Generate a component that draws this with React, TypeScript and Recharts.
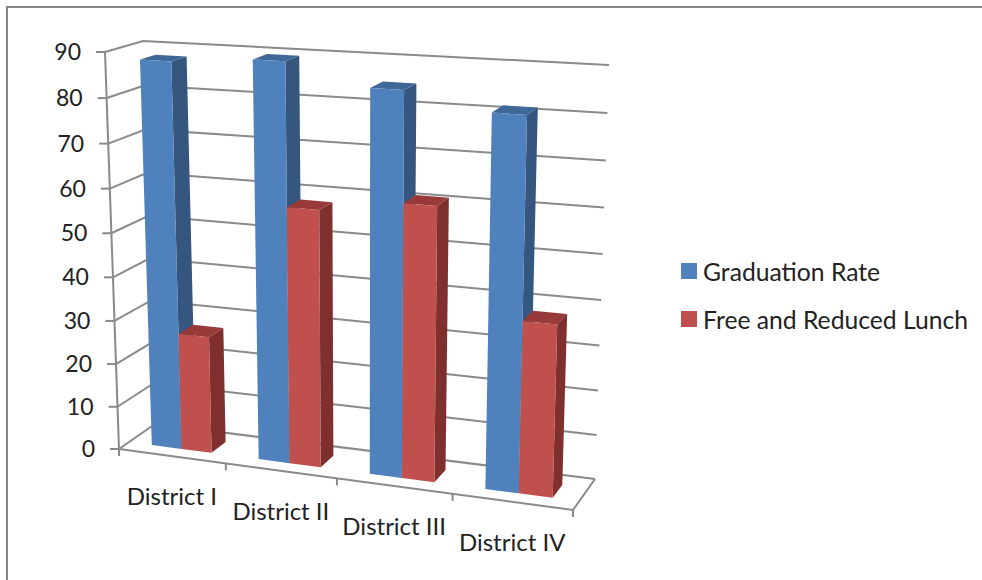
import React from 'react';
import { BarChart, Bar, XAxis, YAxis, CartesianGrid, Legend } from 'recharts';

const categories = ['District I', 'District II', 'District III', 'District IV'];
const graduationRate = [88, 89.5, 85, 81.5];
const freeReducedLunch = [27, 58, 61, 38];
const yTicks = [0, 10, 20, 30, 40, 50, 60, 70, 80, 90];

const data = categories.map((name, i) => ({
  name,
  graduation: graduationRate[i],
  lunch: freeReducedLunch[i],
}));

const FONT = 'Lato, sans-serif';
const GRID = '#8a8a8a';

// logical plot box, every mark gets projected out of it
const PLOT = { left: 119, top: 52, width: 454, height: 397 };

// corners of the 3d box on screen: [bottom, top] for each of back/front and left/right
const BACK_LEFT = [[155, 424], [143, 41]];
const BACK_RIGHT = [[595, 479], [609, 65]];
const FRONT_LEFT = [[119, 449], [105, 52]];
const FRONT_RIGHT = [[573, 510], [585, 82]];

const BAR_FRONT = 0.72;
const BAR_BACK = 0.3;

const mix = (a: number, b: number, k: number) => a + (b - a) * k;
// foreshortening of an axis
const warp = (t: number, k: number) => t / (k - (k - 1) * t);

// t across the categories, h up the value axis, d from back wall (0) to front (1)
function project(t: number, h: number, d: number): [number, number] {
  const u = warp(t, 1.083);
  const v = warp(h, 1.05);
  const out: number[] = [0, 1].map((c) => {
    const bottom = mix(
      mix(BACK_LEFT[0][c], BACK_RIGHT[0][c], u),
      mix(FRONT_LEFT[0][c], FRONT_RIGHT[0][c], u),
      d
    );
    const top = mix(
      mix(BACK_LEFT[1][c], BACK_RIGHT[1][c], u),
      mix(FRONT_LEFT[1][c], FRONT_RIGHT[1][c], u),
      d
    );
    return mix(bottom, top, v);
  });
  return [out[0], out[1]];
}

const toT = (x: number) => (x - PLOT.left) / PLOT.width;
const toH = (y: number) => (PLOT.top + PLOT.height - y) / PLOT.height;
const pts = (list: [number, number][]) => list.map((p) => p.join(',')).join(' ');

const lineProps = { stroke: GRID, strokeWidth: 2, fill: 'none' };

function bar3d(sideColor: string, topColor: string) {
  return (props: any) => {
    const { x, y, width, height, fill } = props;
    const t0 = toT(x);
    const t1 = toT(x + width);
    const h = toH(y);
    const h0 = toH(y + height);
    const front: [number, number][] = [
      project(t0, h0, BAR_FRONT),
      project(t1, h0, BAR_FRONT),
      project(t1, h, BAR_FRONT),
      project(t0, h, BAR_FRONT),
    ];
    const side: [number, number][] = [
      project(t1, h0, BAR_FRONT),
      project(t1, h0, BAR_BACK),
      project(t1, h, BAR_BACK),
      project(t1, h, BAR_FRONT),
    ];
    const top: [number, number][] = [
      project(t0, h, BAR_FRONT),
      project(t1, h, BAR_FRONT),
      project(t1, h, BAR_BACK),
      project(t0, h, BAR_BACK),
    ];
    return (
      <g>
        <polygon points={pts(side)} fill={sideColor} />
        <polygon points={pts(top)} fill={topColor} />
        <polygon points={pts(front)} fill={fill} />
      </g>
    );
  };
}

// one level of the walls, the floor outline comes with level 0
function wallLine(props: any) {
  const h = toH(props.y1);
  const level: [number, number][] = [project(0, h, 1), project(0, h, 0), project(1, h, 0)];
  const isFloor = Math.abs(h) < 0.001;
  return (
    <g key={`wall-${props.index}`}>
      <polyline points={pts(level)} {...lineProps} />
      {isFloor && (
        <polyline points={pts([project(0, 0, 1), project(1, 0, 1), project(1, 0, 0)])} {...lineProps} />
      )}
      {isFloor && <polyline points={pts([project(0, 0, 1), project(0, 1, 1)])} {...lineProps} />}
    </g>
  );
}

function YTick(props: any) {
  const { y, payload } = props;
  const [ax, ay] = project(0, toH(y), 1);
  return (
    <g>
      <line x1={ax - 9} y1={ay} x2={ax} y2={ay} {...lineProps} />
      <text x={ax - 24} y={ay + 8} textAnchor="end" fontFamily={FONT} fontSize={23} fill="#222">
        {payload.value}
      </text>
    </g>
  );
}

function XTick(props: any) {
  const { x, payload, index } = props;
  const t = toT(x);
  const half = 1 / categories.length / 2;
  const [lx, ly] = project(t, 0, 1);
  const [ex, ey] = project(t + half, 0, 1);
  const [sx, sy] = project(t - half, 0, 1);
  return (
    <g>
      <line x1={ex} y1={ey} x2={ex} y2={ey + 7} {...lineProps} />
      {index === 0 && <line x1={sx} y1={sy} x2={sx} y2={sy + 7} {...lineProps} />}
      <text x={lx} y={ly + 49} textAnchor="middle" fontFamily={FONT} fontSize={24} fill="#222">
        {payload.value}
      </text>
    </g>
  );
}

function LegendBox(props: any) {
  return (
    <div>
      {props.payload.map((item: any) => (
        <div key={item.value} style={{ display: 'flex', alignItems: 'center', height: 48 }}>
          <span style={{ width: 16, height: 16, background: item.color, marginRight: 6 }} />
          <span style={{ fontFamily: FONT, fontSize: 24.7, color: '#222', whiteSpace: 'nowrap' }}>{item.value}</span>
        </div>
      ))}
    </div>
  );
}

export default function App() {
  return (
    <div
      style={{
        position: 'absolute',
        left: 0,
        top: 0,
        width: 982,
        height: 580,
        overflow: 'hidden',
        background: '#fff',
      }}
    >
      <div
        style={{
          position: 'absolute',
          left: 6,
          top: 6,
          width: 990,
          height: 590,
          borderLeft: '2px solid #868686',
          borderTop: '2px solid #868686',
        }}
      />
      <div style={{ position: 'absolute', left: 0, top: 0 }}>
        <BarChart
          width={982}
          height={580}
          data={data}
          barCategoryGap="21.8%"
          barGap={0}
          margin={{
            left: PLOT.left - 1,
            top: PLOT.top,
            right: 982 - PLOT.left - PLOT.width,
            bottom: 580 - PLOT.top - PLOT.height - 1,
          }}
        >
          <CartesianGrid horizontal={wallLine} vertical={false} />
          <XAxis dataKey="name" height={1} interval={0} axisLine={false} tickLine={false} tick={XTick} />
          <YAxis width={1} domain={[0, 90]} ticks={yTicks} interval={0} axisLine={false} tickLine={false} tick={YTick} />
          <Legend
            layout="vertical"
            verticalAlign="middle"
            align="center"
            itemSorter={null}
            content={LegendBox}
            wrapperStyle={{ left: 681, top: 247, width: 300, bottom: 'auto', right: 'auto' }}
          />
          <Bar dataKey="graduation" name="Graduation Rate" fill="#4F81BD" shape={bar3d('#34567F', '#3F6797')} isAnimationActive={false} />
          <Bar dataKey="lunch" name="Free and Reduced Lunch" fill="#C0504D" shape={bar3d('#7F302E', '#98393A')} isAnimationActive={false} />
        </BarChart>
      </div>
    </div>
  );
}
